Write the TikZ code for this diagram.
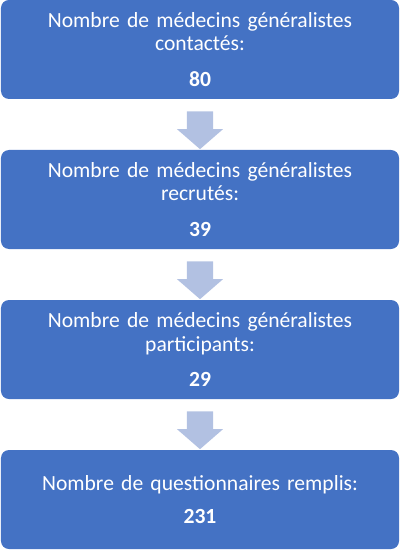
\documentclass[tikz,border=0pt]{standalone}
\usepackage{fontspec}
\setmainfont{Carlito}
\usetikzlibrary{shapes.arrows,calc}

\definecolor{bleuetape}{RGB}{68,114,196}
\definecolor{bleufleche}{RGB}{178,193,226}

\begin{document}
\begin{tikzpicture}[x=1bp,y=1bp]
	\useasboundingbox (0,0) rectangle (400,-550);
	\tikzset{
		etape/.style={rectangle,rounded corners=8bp,fill=bleuetape,text=white,
			minimum width=398bp,minimum height=99bp,text width=390bp,align=center,
			inner sep=0pt,font=\fontsize{21.6bp}{23.5bp}\selectfont},
		fleche/.style={single arrow,shape border rotate=270,fill=bleufleche,
			minimum height=37bp,minimum width=46bp,single arrow head extend=10bp,
			single arrow tip angle=98,inner sep=13bp,draw=none}
	}

	% etapes 1 a 3
	\foreach \i/\t/\n in {1/contactés/80,2/recrutés/39,3/participants/29} {
		\pgfmathsetmacro{\y}{-49.5-150*(\i-1)};
		\node[etape] (e\i) at (200,\y) {Nombre de médecins généralistes\\ \t:\\[12bp] \textbf{\n}};
		}
	% etape 4
	\node[etape] (e4) at (200,-499.5) {Nombre de questionnaires remplis:\\[10bp] \textbf{231}};

	% fleches
	\foreach \a in {1,2,3} {
		\pgfmathsetmacro{\b}{int(\a+1)};
		\node[fleche] (f\a) at ($(e\a.south)!0.5!(e\b.north)$) {};
		}
\end{tikzpicture}
\end{document}
